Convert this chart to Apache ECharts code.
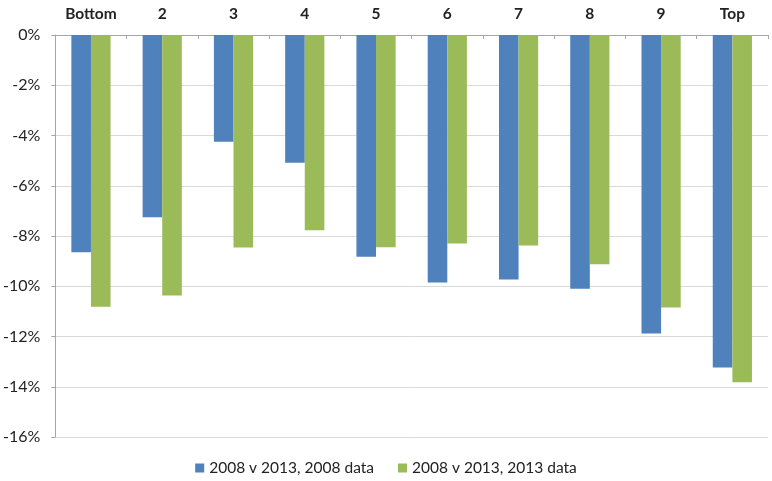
<!DOCTYPE html>
<html>
<head>
<meta charset="utf-8">
<script src="https://cdn.jsdelivr.net/npm/echarts@6/dist/echarts.min.js"></script>
<style>
  html, body { margin: 0; padding: 0; background: #fff; }
  #chart { width: 772px; height: 481px; }
</style>
</head>
<body>
<div id="chart"></div>
<script>
// Deciles of the distribution
const categories = ['Bottom', '2', '3', '4', '5', '6', '7', '8', '9', 'Top'];

// Percentage change, 2008 v 2013
const data2008 = [-8.65, -7.25, -4.25, -5.08, -8.83, -9.85, -9.73, -10.1, -11.88, -13.23];
const data2013 = [-10.82, -10.37, -8.46, -7.77, -8.45, -8.3, -8.38, -9.12, -10.85, -13.82];

const seriesNames = ['2008 v 2013, 2008 data', '2008 v 2013, 2013 data'];

const yTicks = { min: -16, max: 0, interval: 2 };

const FONT = 'Lato, "Open Sans", sans-serif';

const chart = echarts.init(document.getElementById('chart'));
chart.setOption({
  animation: false,
  backgroundColor: '#ffffff',
  grid: { left: 55, right: 4, top: 35, bottom: 44, containLabel: false },
  legend: {
    bottom: 0,
    left: 'center',
    itemWidth: 9,
    itemHeight: 9,
    itemGap: 24,
    itemTextGap: 4,
    icon: 'rect',
    textStyle: { fontFamily: FONT, fontSize: 15.5, color: '#222' },
    data: seriesNames
  },
  xAxis: {
    type: 'category',
    position: 'top',
    data: categories,
    axisLine: { lineStyle: { color: '#a6a6a6', width: 1 } },
    axisTick: { show: true, inside: true, length: 4, lineStyle: { color: '#a6a6a6' } },
    axisLabel: {
      fontFamily: FONT, fontSize: 15.5, fontWeight: 'bold', color: '#222', margin: 13
    },
    splitLine: { show: false }
  },
  yAxis: {
    type: 'value',
    min: yTicks.min,
    max: yTicks.max,
    interval: yTicks.interval,
    axisLine: { show: true, lineStyle: { color: '#a6a6a6' } },
    axisTick: { show: true, length: 4, lineStyle: { color: '#a6a6a6' } },
    axisLabel: {
      fontFamily: FONT, fontSize: 16, color: '#222', margin: 15,
      formatter: v => v + '%'
    },
    splitLine: { lineStyle: { color: '#d9d9d9', width: 1 } }
  },
  series: [
    {
      name: seriesNames[0],
      type: 'bar',
      data: data2008,
      barGap: '0%',
      barCategoryGap: '45%',
      itemStyle: { color: '#4f81bd' }
    },
    {
      name: seriesNames[1],
      type: 'bar',
      data: data2013,
      barGap: '0%',
      barCategoryGap: '45%',
      itemStyle: { color: '#9bbb59' }
    }
  ]
});
</script>
</body>
</html>
